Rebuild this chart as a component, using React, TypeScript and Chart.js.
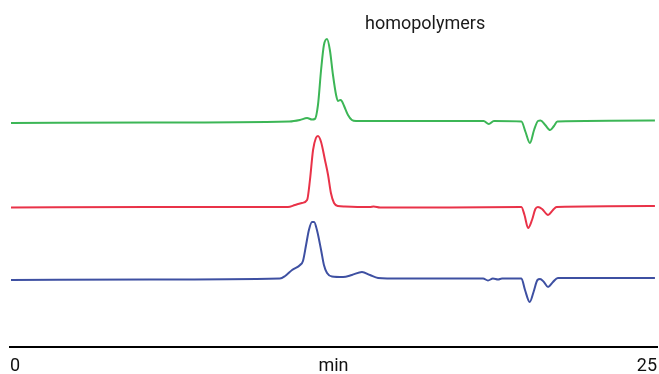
import React, { useEffect, useRef } from "react";
import { Chart, registerables } from "chart.js";

Chart.register(...registerables);

// Retention time (min) and detector response (arbitrary units, traces offset)
const GREEN_TIME = [0.04, 5.4, 10.8, 11.2, 11.48, 11.67, 11.78, 11.9, 12.02, 12.13, 12.25, 12.36, 12.48, 12.6, 12.67, 12.76, 12.82, 12.91, 13.06, 13.21, 13.37, 15.84, 18.3, 18.5, 18.7, 19.76, 19.92, 20.09, 20.25, 20.4, 20.5, 20.68, 20.87, 21.02, 21.15, 24.92];
const GREEN_SIGNAL = [224, 224.5, 225.5, 227, 229, 227.5, 228, 242, 277, 302, 308, 297, 272, 252, 246, 247, 246, 241, 232, 227, 226, 226, 226, 223, 226, 225.5, 215, 204, 217, 226, 226.5, 222, 217, 221, 225.5, 226.5];

const RED_TIME = [0.04, 5.4, 10.74, 11.01, 11.28, 11.48, 11.59, 11.71, 11.82, 11.9, 12.02, 12.17, 12.29, 12.4, 12.52, 12.67, 12.94, 13.91, 14.05, 14.3, 17.0, 19.76, 19.88, 20.02, 20.17, 20.3, 20.4, 20.56, 20.79, 20.98, 21.12, 24.92];
const RED_SIGNAL = [139.5, 140, 140, 142, 144, 147, 167, 197, 209, 211, 205, 187, 172, 154, 144, 141, 140.5, 140, 140.5, 139.5, 139.5, 140, 132, 119, 127, 138, 140, 138, 132, 137, 140, 141];

const BLUE_TIME = [0.04, 5.4, 10.43, 10.63, 10.9, 11.21, 11.32, 11.44, 11.55, 11.67, 11.75, 11.86, 12.02, 12.13, 12.25, 12.44, 12.87, 13.21, 13.6, 13.91, 14.22, 15.07, 18.28, 18.47, 18.66, 18.86, 19.01, 19.76, 19.9, 20.08, 20.23, 20.38, 20.48, 20.63, 20.79, 20.98, 21.17, 24.92];
const BLUE_SIGNAL = [67, 67.5, 68.5, 71, 77, 82, 86, 102, 117, 125, 125, 117, 97, 82, 74, 70.5, 70, 72, 75, 72, 69, 68.5, 68.5, 66.5, 68.5, 67.5, 68.5, 68.5, 57, 45, 55, 67, 68, 65, 60, 65, 69, 69];

const X_TICK_VALUES = [0, 12.5, 25];
const X_TICK_LABELS = ["0", "min", "25"];

const ANNOTATION_TEXT = "homopolymers";
const ANNOTATION_TIME = 16.04;

const toPoints = (t: number[], s: number[]) => t.map((x, i) => ({ x, y: s[i] }));

export default function App() {
  const canvasRef = useRef<HTMLCanvasElement | null>(null);

  useEffect(() => {
    if (!canvasRef.current) return;

    const annotationPlugin = {
      id: "annotationText",
      afterDraw(chart: any) {
        const { ctx, scales } = chart;
        ctx.save();
        ctx.font = '18px Roboto, "Liberation Sans", sans-serif';
        ctx.fillStyle = "#1a1a1a";
        ctx.textAlign = "center";
        ctx.textBaseline = "alphabetic";
        ctx.fillText(ANNOTATION_TEXT, scales.x.getPixelForValue(ANNOTATION_TIME), 29);
        ctx.restore();
      },
    };

    const line = (label: string, t: number[], s: number[], color: string) => ({
      label,
      data: toPoints(t, s),
      borderColor: color,
      backgroundColor: color,
      borderWidth: 2,
      pointRadius: 0,
      cubicInterpolationMode: "monotone" as const,
      fill: false,
    });

    const chart = new Chart(canvasRef.current, {
      type: "line",
      data: {
        datasets: [
          line("green", GREEN_TIME, GREEN_SIGNAL, "rgb(60,182,86)"),
          line("red", RED_TIME, RED_SIGNAL, "rgb(233,50,72)"),
          line("blue", BLUE_TIME, BLUE_SIGNAL, "rgb(62,80,162)"),
        ],
      },
      options: {
        animation: false,
        responsive: false,
        maintainAspectRatio: false,
        layout: { padding: { left: 10, right: 2, top: 0, bottom: 0 } },
        plugins: {
          legend: { display: false },
          tooltip: { enabled: false },
          title: { display: false },
        },
        scales: {
          x: {
            type: "linear",
            min: 0,
            max: 25,
            afterBuildTicks: (scale: any) => {
              scale.ticks = X_TICK_VALUES.map((value) => ({ value }));
            },
            afterFit: (scale: any) => {
              scale.height = 27;
              scale.paddingLeft = 0;
              scale.paddingRight = 0;
            },
            grid: { display: false, drawTicks: false },
            border: { display: true, color: "#000", width: 2 },
            ticks: {
              autoSkip: false,
              maxRotation: 0,
              align: "inner",
              padding: 9,
              color: "#111",
              font: { family: 'Roboto, "Liberation Sans", sans-serif', size: 18 },
              callback: (value: any) => {
                const i = X_TICK_VALUES.indexOf(Number(value));
                return i >= 0 ? X_TICK_LABELS[i] : "";
              },
            },
          },
          y: {
            display: false,
            min: 0,
            max: 347,
          },
        },
      },
      plugins: [annotationPlugin],
    });

    return () => chart.destroy();
  }, []);

  return (
    <div style={{ position: "absolute", left: 0, top: 0, width: 659, height: 374 }}>
      <canvas ref={canvasRef} width={659} height={374} style={{ width: 659, height: 374 }} />
    </div>
  );
}
